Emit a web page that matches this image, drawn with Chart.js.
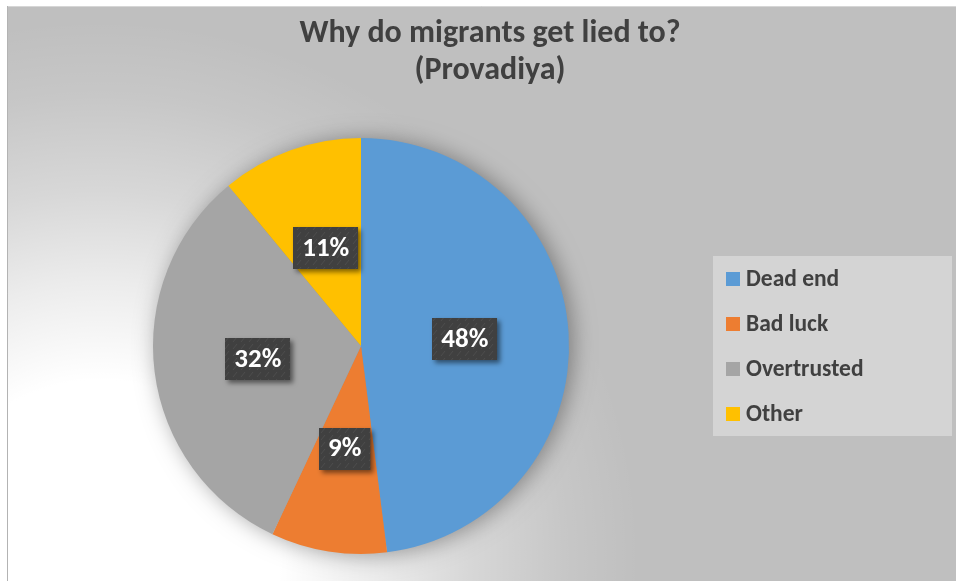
<!DOCTYPE html>
<html>
<head>
<meta charset="utf-8">
<script src="https://cdn.jsdelivr.net/npm/chart.js@4.4.1/dist/chart.umd.min.js"></script>
<style>
  html, body { margin: 0; padding: 0; background: #ffffff; }
  #wrap { width: 956px; height: 581px; position: relative; }
</style>
</head>
<body>
<div id="wrap"><canvas id="pie"></canvas></div>
<script>
// survey answers, percent of respondents
const categories = ['Dead end', 'Bad luck', 'Overtrusted', 'Other'];
const shares = [48, 9, 32, 11];
const sliceColours = ['#5b9bd5', '#ed7d31', '#a5a5a5', '#ffc000'];
const titleLines = ['Why do migrants get lied to?', '(Provadiya)'];

const FONT = 'Carlito, Calibri, Lato, sans-serif';
const TEXT_DARK = '#404040';

// small tile for the hatched look of the value boxes
function makeBoxPattern(ctx) {
  const tile = document.createElement('canvas');
  tile.width = 8; tile.height = 7;
  const t = tile.getContext('2d');
  t.fillStyle = '#404040';
  t.fillRect(0, 0, 8, 7);
  t.strokeStyle = 'rgba(255,255,255,0.07)';
  t.lineWidth = 1;
  t.beginPath();
  t.moveTo(1, 6); t.lineTo(5, 1);
  t.stroke();
  return ctx.createPattern(tile, 'repeat');
}

// background panel, white glow and soft shadow behind the pie
const backdrop = {
  id: 'backdrop',
  beforeDatasetsDraw(chart) {
    const ctx = chart.ctx;
    const arc = chart.getDatasetMeta(0).data[0];
    const cx = arc.x, cy = arc.y, r = arc.outerRadius;

    ctx.save();
    ctx.fillStyle = '#ffffff';
    ctx.fillRect(0, 0, chart.width, chart.height);
    ctx.fillStyle = '#bfbfbf';
    ctx.fillRect(7, 6, chart.width - 7, chart.height - 6);

    // white glow towards the lower left
    const g = ctx.createRadialGradient(100, 560, 0, 100, 560, 540);
    g.addColorStop(0, 'rgba(255,255,255,1)');
    g.addColorStop(0.333, 'rgba(255,255,255,1)');
    g.addColorStop(0.515, 'rgba(255,255,255,0.7)');
    g.addColorStop(0.683, 'rgba(255,255,255,0.38)');
    g.addColorStop(0.863, 'rgba(255,255,255,0.12)');
    g.addColorStop(1, 'rgba(255,255,255,0)');
    ctx.fillStyle = g;
    ctx.fillRect(8, 7, chart.width - 8, chart.height - 7);

    ctx.strokeStyle = '#d6d6d6';
    ctx.lineWidth = 1;
    ctx.beginPath();
    ctx.moveTo(7, 6.5); ctx.lineTo(chart.width, 6.5);
    ctx.stroke();
    ctx.strokeStyle = '#b3b3b3';
    ctx.beginPath();
    ctx.moveTo(7.5, 6); ctx.lineTo(7.5, chart.height);
    ctx.stroke();

    // dark halo: the disc sits far off-canvas so only its shadow lands
    const far = 4000;
    ctx.shadowColor = 'rgba(0,0,0,0.36)';
    ctx.shadowBlur = 22;
    ctx.shadowOffsetX = far + 4;
    ctx.shadowOffsetY = 1;
    ctx.fillStyle = '#000';
    ctx.beginPath();
    ctx.arc(cx - far, cy, r, 0, Math.PI * 2);
    ctx.fill();
    ctx.restore();
  }
};

// title, value boxes and the legend panel
const decorations = {
  id: 'decorations',
  afterDatasetsDraw(chart) {
    const ctx = chart.ctx;
    const meta = chart.getDatasetMeta(0);

    ctx.save();
    ctx.fillStyle = TEXT_DARK;
    ctx.font = 'bold 32px ' + FONT;
    ctx.textAlign = 'center';
    ctx.textBaseline = 'middle';
    ctx.fillText(titleLines[0], 490, 34);
    ctx.fillText(titleLines[1], 490, 71);
    ctx.restore();

    const pattern = makeBoxPattern(ctx);
    meta.data.forEach((arc, i) => {
      const pos = arc.tooltipPosition();
      const text = shares[i] + '%';
      ctx.save();
      ctx.font = 'bold 27px ' + FONT;
      const w = ctx.measureText(text).width + 18;
      const h = 42;
      const x = Math.round(pos.x - w / 2), y = Math.round(pos.y - h / 2);
      ctx.shadowColor = 'rgba(0,0,0,0.5)';
      ctx.shadowBlur = 5;
      ctx.shadowOffsetX = 3;
      ctx.shadowOffsetY = 3;
      ctx.fillStyle = pattern;
      ctx.fillRect(x, y, w, h);
      ctx.shadowColor = 'transparent';
      ctx.fillStyle = '#ffffff';
      ctx.textAlign = 'center';
      ctx.textBaseline = 'middle';
      ctx.fillText(text, pos.x, pos.y + 1);
      ctx.restore();
    });

    // legend panel
    ctx.save();
    ctx.fillStyle = '#d4d4d4';
    ctx.fillRect(713, 256, 239, 180);
    ctx.font = 'bold 23.5px ' + FONT;
    ctx.textBaseline = 'middle';
    categories.forEach((label, i) => {
      const yc = 279 + i * 45;
      ctx.fillStyle = sliceColours[i];
      ctx.fillRect(726, yc - 7, 14, 14);
      ctx.fillStyle = TEXT_DARK;
      ctx.fillText(label, 746, yc + 1);
    });
    ctx.restore();
  }
};

new Chart(document.getElementById('pie'), {
  type: 'pie',
  data: {
    labels: categories,
    datasets: [{
      data: shares,
      backgroundColor: sliceColours,
      borderWidth: 0
    }]
  },
  options: {
    responsive: true,
    maintainAspectRatio: false,
    animation: false,
    layout: { padding: { left: 153, top: 138, right: 387, bottom: 27 } },
    plugins: {
      legend: { display: false },
      title: { display: false },
      tooltip: { enabled: false }
    }
  },
  plugins: [backdrop, decorations]
});
</script>
</body>
</html>
